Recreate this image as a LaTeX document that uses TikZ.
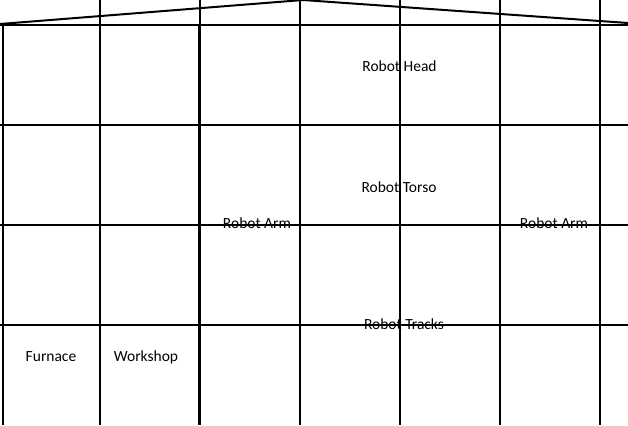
\documentclass[tikz,border=0pt]{standalone}
\usepackage{fontspec}
\setmainfont{Carlito}
\begin{document}
\begin{tikzpicture}[x=1pt, y=-1pt, grid/.style = {draw, line width=1.1pt}, wall/.style = {draw, line width=2.6pt}, roof/.style = {draw, line width=2pt}, room/.style = {anchor=base, inner sep=0pt, font=\fontsize{15.5}{18}\selectfont}]

    \useasboundingbox (0, 0) rectangle (628, 425);

    % grid
    \draw[grid] (100, 0) -- (100, 425);
    \draw[grid] (200, 0) -- (200, 425);
    \draw[grid] (300, 0) -- (300, 425);
    \draw[grid] (400, 0) -- (400, 425);
    \draw[grid] (500, 0) -- (500, 425);
    \draw[grid] (600, 0) -- (600, 425);
    \draw[grid] (0, 125) -- (628, 125);
    \draw[grid] (0, 225) -- (628, 225);
    \draw[grid] (0, 325) -- (628, 325);

    % walls and roof
    \coordinate (eaveL) at (0, 24);
    \coordinate (ridge) at (303, 0);
    \coordinate (eaveR) at (628, 23);
    \draw[roof] (eaveL) -- (ridge) -- (eaveR);
    \draw[roof] (0, 25.5) -- (628, 25.5);
    \draw[wall] (3, 25) -- (3, 425);
    \draw[wall] (199, 25) -- (199, 425);
    \draw[wall] (600, 25) -- (600, 425);

    % rooms
    \node [room] (head) at (399.5, 72) {Robot Head};
    \node [room] (torso) at (399, 192) {Robot Torso};
    \node [room] (armL) at (257, 228) {Robot Arm};
    \node [room] (armR) at (554, 228) {Robot Arm};
    \node [room] (tracks) at (404, 329) {Robot Tracks};
    \node [room] (furnace) at (51, 361) {Furnace};
    \node [room] (workshop) at (146, 361) {Workshop};

\end{tikzpicture}
\end{document}
